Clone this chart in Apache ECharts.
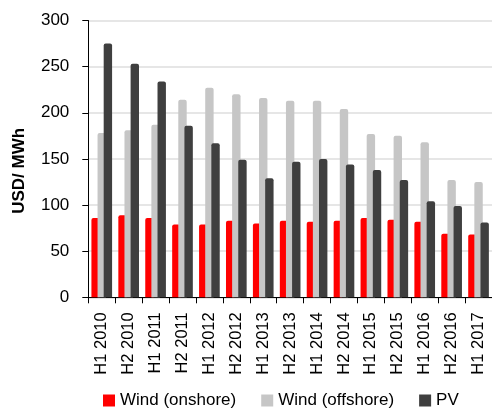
<!DOCTYPE html>
<html>
<head>
<meta charset="utf-8">
<script src="https://cdn.jsdelivr.net/npm/echarts@6/dist/echarts.min.js"></script>
<style>
  html, body { margin: 0; padding: 0; background: #fff; }
  #chart { width: 492px; height: 414px; }
</style>
</head>
<body>
<div id="chart"></div>
<script>
// Levelised cost of electricity by half-year, USD/MWh
const categories = ['H1 2010', 'H2 2010', 'H1 2011', 'H2 2011', 'H1 2012', 'H2 2012', 'H1 2013', 'H2 2013',
                    'H1 2014', 'H2 2014', 'H1 2015', 'H2 2015', 'H1 2016', 'H2 2016', 'H1 2017'];
const windOnshore  = [86, 89, 86, 79, 79, 83, 80, 83, 82, 83, 86, 84, 82, 69, 68];
const windOffshore = [178, 181, 187, 214, 227, 220, 216, 213, 213, 204, 177, 175, 168, 127, 125];
const pv           = [275, 253, 234, 186, 167, 149, 129, 147, 150, 144, 138, 127, 104, 99, 81];
const yTicks = { min: 0, max: 300, interval: 50 };

const FONT = '"Liberation Sans", Arial, sans-serif';
const chart = echarts.init(document.getElementById('chart'), null, { renderer: 'canvas' });

function barSeries(name, data, color) {
  return {
    name: name,
    type: 'bar',
    data: data,
    barWidth: 8.4,
    barGap: '-27%',
    itemStyle: { color: color, borderRadius: [2, 2, 0, 0] }
  };
}

chart.setOption({
  animation: false,
  textStyle: { fontFamily: FONT },
  grid: { left: 88.3, right: -4.5, top: 20.5, bottom: 116.7, containLabel: false },
  legend: {
    left: 103,
    top: 392,
    padding: 0,
    itemWidth: 12,
    itemHeight: 12,
    itemGap: 25,
    icon: 'rect',
    textStyle: { fontFamily: FONT, fontSize: 17, color: '#000' },
    data: ['Wind (onshore)', 'Wind (offshore)', 'PV']
  },
  xAxis: {
    type: 'category',
    data: categories,
    axisLine: { lineStyle: { color: '#000', width: 1 } },
    axisTick: { show: true, length: 6, lineStyle: { color: '#000' } },
    axisLabel: {
      rotate: 90,
      interval: 0,
      margin: 15,
      fontFamily: FONT,
      fontSize: 16.5,
      color: '#000'
    }
  },
  yAxis: {
    type: 'value',
    min: yTicks.min,
    max: yTicks.max,
    interval: yTicks.interval,
    name: 'USD/ MWh',
    nameLocation: 'middle',
    nameGap: 60,
    nameTextStyle: {
      fontFamily: FONT,
      fontSize: 17,
      fontWeight: 'bold',
      color: '#000',
      padding: [0, 24, 0, 0]
    },
    axisLine: { show: true, lineStyle: { color: '#000', width: 1 } },
    axisTick: { show: true, length: 6, lineStyle: { color: '#000' } },
    axisLabel: { margin: 19, fontFamily: FONT, fontSize: 17, color: '#000' },
    splitLine: { show: true, lineStyle: { color: '#dedede', width: 1.5 } }
  },
  series: [
    barSeries('Wind (onshore)', windOnshore, '#ff0000'),
    barSeries('Wind (offshore)', windOffshore, '#c6c6c6'),
    barSeries('PV', pv, '#3f3f3f')
  ]
});
</script>
</body>
</html>
